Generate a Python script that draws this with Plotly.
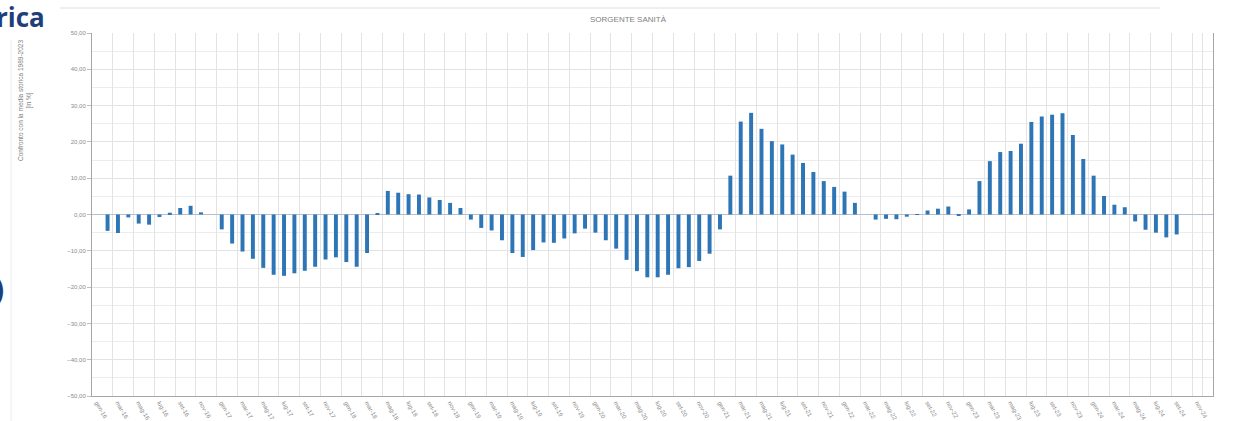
import plotly.graph_objects as go

# ---- data -------------------------------------------------------------
mesi = ["gen", "feb", "mar", "apr", "mag", "giu", "lug", "ago", "set", "ott", "nov", "dic"]
anni = ["16", "17", "18", "19", "20", "21", "22", "23", "24"]
categorie = [f"{m}-{a}" for a in anni for m in mesi]          # gen-16 ... dic-24

# scostamento dalla media storica [%] (None = dato assente)
valori = [None,
          -4.5, -5.1, -0.8, -2.5, -2.8, -0.7, 0.5, 1.8, 2.4, 0.6, 0.0,
          -4.1, -8.0, -10.2, -12.2, -14.7, -16.6, -16.9, -16.2, -15.5, -14.4, -12.4, -11.8,
          -13.1, -14.4, -10.6, 0.4, 6.5, 6.0, 5.6, 5.5, 4.7, 4.0, 3.2, 1.8,
          -1.4, -3.7, -4.4, -7.1, -10.6, -11.7, -9.8, -7.7, -7.8, -6.6, -5.2, -3.9,
          -5.0, -7.1, -9.4, -12.5, -15.6, -17.3, -17.3, -16.6, -14.8, -14.5, -12.8, -10.8,
          -4.1, 10.7, 25.6, 28.0, 23.6, 20.2, 19.3, 16.5, 14.2, 11.7, 9.2, 7.6,
          6.3, 3.2, 0.0, -1.4, -1.2, -1.3, -0.6, 0.1, 1.1, 1.6, 2.2, -0.2,
          1.4, 9.2, 14.7, 17.2, 17.5, 19.5, 25.5, 27.0, 27.5, 27.9, 21.9, 15.3,
          10.7, 5.1, 2.7, 2.0, -1.9, -4.2, -5.0, -6.3, -5.5,
          None, None, None]

etichette_x = categorie[::2]
titolo = "SORGENTE SANITÀ"
titolo_y = "Confronto con la media storica 1989-2023<br>[in %]"

# ---- layout geometry (pixels) ------------------------------------------
W, H = 1241, 421
L, R, T, B = 92, 1213, 33, 396
PW, PH = R - L, B - T


def px(x):
    return (x - L) / PW


def py(y):
    return (B - y) / PH


fig = go.Figure()
fig.add_trace(go.Bar(
    x=categorie, y=valori,
    marker=dict(color="#2E75B6", line=dict(width=0)),
    hoverinfo="x+y",
))

grid = "#e3e3e3"
fig.update_layout(
    width=W, height=H,
    margin=dict(l=L, r=W - R, t=T, b=H - B, autoexpand=False),
    paper_bgcolor="white", plot_bgcolor="white",
    separators=",.",
    bargap=0.62,
    showlegend=False,
    font=dict(family="Liberation Sans, Arial, sans-serif", color="#808080"),
    xaxis=dict(
        type="category",
        categoryorder="array", categoryarray=categorie,
        range=[-0.5, len(categorie) - 0.5],
        tickmode="array", tickvals=etichette_x, ticktext=etichette_x,
        tickson="boundaries",
        tickangle=60,
        tickfont=dict(size=6, color="#8a8a8a"),
        ticks="",
        showgrid=True, gridcolor=grid, gridwidth=1,
        showline=True, linecolor="#a6a6a6", linewidth=1,
        zeroline=False,
        automargin=False,
        fixedrange=True,
    ),
    yaxis=dict(
        range=[-50, 50],
        tickmode="linear", tick0=-50, dtick=10,
        tickformat=".2f",
        tickfont=dict(size=6, color="#8a8a8a"),
        ticks="outside", ticklen=4, tickcolor="#bfbfbf",
        showgrid=True, gridcolor=grid, gridwidth=1,
        minor=dict(dtick=5, tick0=0, showgrid=True, gridcolor="#ececec", gridwidth=1),
        showline=True, linecolor="#a6a6a6", linewidth=1, mirror=True,
        zeroline=True, zerolinecolor="#b4c0d2", zerolinewidth=1,
        automargin=False,
        fixedrange=True,
    ),
)

annotations = [
    dict(text=titolo, x=px(628), y=py(19), xref="paper", yref="paper",
         showarrow=False, xanchor="center", yanchor="middle",
         font=dict(size=8, color="#7f7f7f")),
    dict(text=titolo_y, x=px(25), y=py(101), xref="paper", yref="paper",
         showarrow=False, xanchor="center", yanchor="middle", textangle=-90,
         font=dict(size=6.5, color="#7f7f7f")),
    dict(text="<b>rica</b>", x=px(47), y=py(17), xref="paper", yref="paper",
         showarrow=False, xanchor="right", yanchor="middle",
         font=dict(size=26, color="#1f3f7a", family="Open Sans, Liberation Sans, sans-serif")),
    dict(text="<b>)</b>", x=px(6), y=py(288), xref="paper", yref="paper",
         showarrow=False, xanchor="right", yanchor="middle",
         font=dict(size=30, color="#1f3f7a", family="Open Sans, Liberation Sans, sans-serif")),
]
fig.update_layout(annotations=annotations)

shapes = [
    dict(type="line", xref="paper", yref="paper", x0=px(60), x1=px(1160), y0=py(8), y1=py(8),
         line=dict(color="#dedede", width=1)),
    dict(type="line", xref="paper", yref="paper", x0=px(11), x1=px(11), y0=py(40), y1=py(421),
         line=dict(color="#ececec", width=1)),
]
fig.update_layout(shapes=shapes)

fig.write_html(
    "out.html",
    config={"displayModeBar": False},
    post_script="document.body.style.margin='0px';document.body.style.padding='0px';",
)
